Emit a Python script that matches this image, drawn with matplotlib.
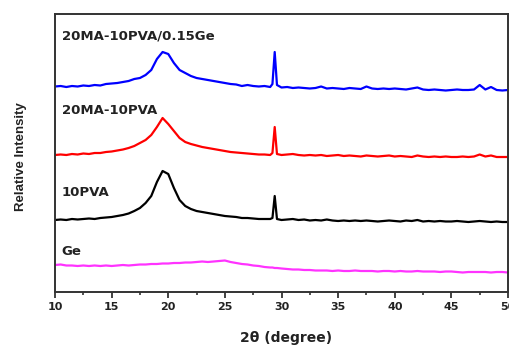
import numpy as np
import matplotlib
matplotlib.use("Agg")
import matplotlib.pyplot as plt

plt.rcParams['font.family'] = ['DejaVu Sans']

# 2-theta sample positions (degrees)
two_theta = np.concatenate([np.arange(10.0, 29.01, 0.5), [29.2, 29.4, 29.6], np.arange(30.0, 50.01, 0.5)])

# Intensities (arbitrary units, stacked)
ge_pva_ma = [205.5, 206, 205, 206, 205.5, 206.5, 206, 207, 206.5, 208, 208.5, 209, 210, 211, 213, 214, 217, 222, 233, 240,
             238, 229, 222, 219, 216, 214, 213, 212, 211, 210, 209, 208, 207.5, 206, 207, 206, 205.5, 206, 205,
             208, 240, 207,
             204.5, 205, 204, 204.5, 204, 203.5, 204, 205.5, 203.5, 204, 203.5, 203, 204, 203.5, 203, 205.5, 203.5, 203,
             203.5, 203, 203.5, 203, 202.5, 203.5, 204.5, 202.5, 202, 202.5, 202, 201.5, 202, 202.5, 202, 202, 202.5,
             207, 202.5, 205, 202, 201.5, 202]
ma_pva = [137, 137.5, 137, 138, 137.5, 138.5, 138, 139, 139, 140, 140.5, 141.5, 142.5, 144, 146, 149, 152, 157, 165, 174,
          168, 161, 154, 150, 148, 146.5, 145, 144, 143, 142, 141, 140, 139.5, 139, 138.5, 138, 137.5, 137.5, 137,
          139, 165, 138,
          137, 137.5, 138, 137, 136.5, 137, 136.5, 137, 136, 136.5, 137, 136, 136.5, 136, 135.5, 136.5, 136, 135.5,
          136, 136.5, 135.5, 136, 135.5, 135, 136.5, 135.5, 135, 135.5, 135, 135.5, 135, 135, 135.5, 135, 135.5,
          137.5, 135.5, 136.5, 135, 135, 135]
pva = [72, 72.5, 72, 73, 72.5, 73, 73.5, 73, 74, 74.5, 75, 76, 77, 78.5, 81, 84, 89, 96, 110, 121,
       118, 104, 92, 86, 83, 81, 80, 79, 78, 77, 76, 75.5, 75, 74, 74, 73.5, 73, 73, 73,
       74, 96, 73,
       72, 72.5, 73, 72, 72.5, 71.5, 72, 71.5, 72.5, 71.5, 71, 71.5, 71, 71.5, 71, 71.5, 71, 70.5,
       71, 71.5, 71, 70.5, 71.5, 71, 72, 70.5, 71, 70.5, 71, 70.5, 70.5, 71, 70.5, 70, 70.5,
       71, 70.5, 70, 70.5, 70, 70]
ge = [27, 27.5, 26.5, 26.5, 26, 26.5, 26, 26.5, 26, 26.5, 26, 26.5, 27, 26.5, 27, 27.5, 27.5, 28, 28, 28.5,
      28.5, 29, 29, 29.5, 29.5, 30, 30.5, 30, 30.5, 31, 31.5, 30, 29, 28, 27.5, 26.5, 26, 25, 24.5,
      24.5, 24, 24,
      23.5, 23, 22.5, 22.5, 22, 22, 21.5, 21.5, 21.5, 21, 21.5, 21, 21, 21.5, 21, 21, 21, 20.5,
      21, 21, 20.5, 21, 20.5, 20.5, 21, 20.5, 20.5, 20.5, 20, 20.5, 20.5, 20, 19.5, 20, 20,
      20, 20, 19.5, 20, 20, 19.5]

series_names = ["20MA-10PVA/0.15Ge", "20MA-10PVA", "10PVA", "Ge"]
series_values = [ge_pva_ma, ma_pva, pva, ge]
series_colors = ["#0000ff", "#ff0000", "#000000", "#ff33ff"]
label_x = [10.6, 10.6, 10.6, 10.6]
label_y = [256, 181, 99, 40]

fig = plt.figure(figsize=(5.10, 3.45), dpi=100)
ax = fig.add_axes([55/510, 1 - 292/345, (508 - 55)/510, (292 - 14)/345])

for name, vals, col, lx, ly in zip(series_names, series_values, series_colors, label_x, label_y):
    ax.plot(two_theta, vals, color=col, lw=1.6)
    ax.text(lx, ly, name, fontsize=9.5, fontweight='bold', va='center', ha='left', color='#222222')

ax.set_xlim(10, 50)
ax.set_ylim(0, 278)
ax.set_xticks(np.arange(10, 51, 5))
ax.set_xticks(np.arange(12.5, 50, 5), minor=True)
ax.set_yticks([])
ax.tick_params(axis='x', which='major', direction='out', length=4, width=1.3, color='#333333',
               labelsize=8, pad=3)
ax.tick_params(axis='x', which='minor', direction='out', length=2.5, width=1.2, color='#333333')
for lab in ax.get_xticklabels():
    lab.set_fontweight('bold')
    lab.set_color('#222222')
for s in ax.spines.values():
    s.set_linewidth(1.4)
    s.set_color('#333333')

ax.set_xlabel("2θ (degree)", fontsize=10, fontweight='bold', color='#222222')
ax.xaxis.set_label_coords(0.511, -0.140)
ax.set_ylabel("Relative Intensity", fontsize=9.5, fontweight='bold', family='Liberation Sans', color='#222222')
ax.yaxis.set_label_coords(-0.062, 0.487)

fig.savefig("out.png", dpi=100)
